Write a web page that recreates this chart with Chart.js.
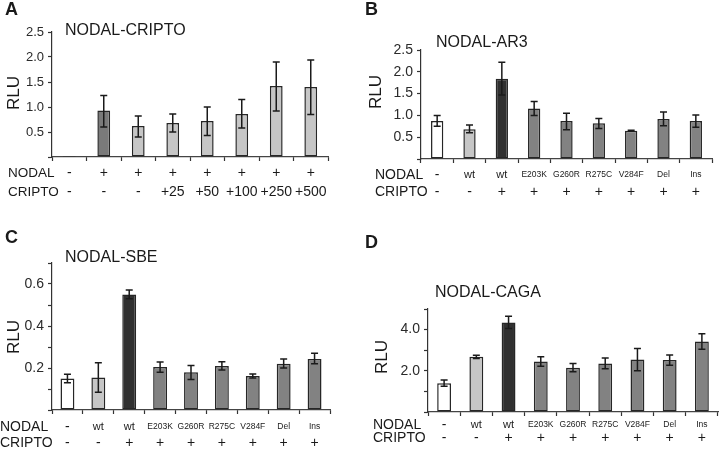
<!DOCTYPE html>
<html>
<head>
<meta charset="utf-8">
<script src="https://cdn.jsdelivr.net/npm/chart.js@4"></script>
<style>
  body { margin: 0; background: #fff; }
  #wrap { position: relative; width: 720px; height: 449px; }
  .panel { position: absolute; }
</style>
</head>
<body>
<div id="wrap">
  <div class="panel" style="left:0;top:0;width:360px;height:225px"><canvas id="chartA"></canvas></div>
  <div class="panel" style="left:360px;top:0;width:360px;height:225px"><canvas id="chartB"></canvas></div>
  <div class="panel" style="left:0;top:225px;width:360px;height:224px"><canvas id="chartC"></canvas></div>
  <div class="panel" style="left:360px;top:225px;width:360px;height:224px"><canvas id="chartD"></canvas></div>
</div>
<script>
// Panel A - NODAL-CRIPTO
const aNodal = ['-', '+', '+', '+', '+', '+', '+', '+'];
const aCripto = ['-', '-', '-', '+25', '+50', '+100', '+250', '+500'];
const aValues = [0.02, 0.93, 0.62, 0.68, 0.72, 0.86, 1.42, 1.40];
const aErrLow = [0.02, 0.60, 0.40, 0.50, 0.43, 0.58, 0.92, 0.85];
const aErrHigh = [0.02, 1.23, 0.82, 0.86, 1.00, 1.15, 1.90, 1.94];

// Panels B-D share the same conditions
const mutNodal = ['-', 'wt', 'wt', 'E203K', 'G260R', 'R275C', 'V284F', 'Del', 'Ins'];
const mutCripto = ['-', '-', '+', '+', '+', '+', '+', '+', '+'];

// Panel B - NODAL-AR3
const bValues = [0.87, 0.68, 1.84, 1.16, 0.87, 0.82, 0.65, 0.92, 0.87];
const bErrLow = [0.75, 0.60, 1.47, 1.00, 0.67, 0.70, 0.64, 0.76, 0.73];
const bErrHigh = [1.00, 0.78, 2.22, 1.32, 1.05, 0.93, 0.66, 1.08, 1.01];

// Panel C - NODAL-SBE
const cValues = [0.150, 0.155, 0.550, 0.205, 0.180, 0.210, 0.162, 0.220, 0.243];
const cErrLow = [0.130, 0.085, 0.530, 0.180, 0.145, 0.190, 0.152, 0.200, 0.220];
const cErrHigh = [0.170, 0.225, 0.572, 0.228, 0.212, 0.230, 0.172, 0.243, 0.270];

// Panel D - NODAL-CAGA
const dValues = [1.40, 2.68, 4.35, 2.45, 2.15, 2.35, 2.55, 2.52, 3.42];
const dErrLow = [1.25, 2.60, 4.05, 2.22, 1.95, 2.10, 2.00, 2.27, 3.05];
const dErrHigh = [1.55, 2.76, 4.65, 2.68, 2.35, 2.62, 3.08, 2.77, 3.80];

// bar fills
const WHITE = '#ffffff', LIGHT = '#c6c6c6', MID = '#828282', DARK = '#303030', AMID = '#7a7a7a';
const aColors = [LIGHT, AMID, LIGHT, LIGHT, LIGHT, LIGHT, LIGHT, LIGHT];
const mutColors = [WHITE, LIGHT, DARK, MID, MID, MID, MID, MID, MID];

const FONT = '"Liberation Sans", Arial, sans-serif';
const INK = '#1a1a1a';

function rowFont(label) {
  if (label === 'wt') return '11px ' + FONT;
  if (/^[A-Za-z]/.test(label) && label.length > 2) return '8.5px ' + FONT;
  return '14px ' + FONT;
}

// draws error bars, the condition rows and the panel texts
const panelPlugin = {
  id: 'panel',
  afterDatasetsDraw(chart, args, o) {
    const ctx = chart.ctx;
    const x = chart.scales.x, y = chart.scales.y;
    ctx.save();
    ctx.strokeStyle = INK;
    ctx.lineWidth = 1.5;
    o.lo.forEach((lo, i) => {
      const px = x.getPixelForValue(i);
      const y1 = y.getPixelForValue(lo), y2 = y.getPixelForValue(o.hi[i]);
      if (Math.abs(y1 - y2) < 0.5) return;
      ctx.beginPath();
      ctx.moveTo(px, y1); ctx.lineTo(px, y2);
      ctx.moveTo(px - 3.5, y1); ctx.lineTo(px + 3.5, y1);
      ctx.moveTo(px - 3.5, y2); ctx.lineTo(px + 3.5, y2);
      ctx.stroke();
    });

    ctx.fillStyle = INK;
    ctx.textBaseline = 'middle';
    // panel letter
    ctx.textAlign = 'left';
    ctx.font = 'bold 18px ' + FONT;
    ctx.fillText(o.letter, o.letterPos[0], o.letterPos[1]);
    // title
    ctx.font = '16px ' + FONT;
    ctx.fillText(o.title, o.titlePos[0], o.titlePos[1]);
    // row names
    ctx.font = o.rowNameFont + ' ' + FONT;
    ctx.fillText('NODAL', o.rowX, o.rowY[0]);
    ctx.fillText('CRIPTO', o.rowX, o.rowY[1]);
    // row values
    ctx.textAlign = 'center';
    o.nodal.forEach((lab, i) => {
      const px = x.getPixelForValue(i);
      ctx.font = rowFont(lab);
      ctx.fillText(lab, px, o.rowY[0]);
      ctx.font = rowFont(o.cripto[i]);
      ctx.fillText(o.cripto[i], px, o.rowY[1]);
    });
    // y title
    ctx.save();
    ctx.translate(o.rluPos[0], o.rluPos[1]);
    ctx.rotate(-Math.PI / 2);
    ctx.font = '17px ' + FONT;
    ctx.fillText('RLU', 0, 0);
    ctx.restore();
    ctx.restore();
  }
};

function makePanel(id, cfg) {
  const labels = cfg.nodal.map((n, i) => n + ' / ' + cfg.cripto[i]);
  new Chart(document.getElementById(id), {
    type: 'bar',
    data: {
      labels: labels,
      datasets: [{
        data: cfg.values,
        backgroundColor: cfg.colors,
        borderColor: '#262626',
        borderWidth: 1.5,
        borderSkipped: false,
        barPercentage: cfg.barPct,
        categoryPercentage: 1
      }]
    },
    options: {
      responsive: true,
      maintainAspectRatio: false,
      animation: false,
      layout: { padding: cfg.padding },
      scales: {
        x: {
          grid: { drawOnChartArea: false, drawTicks: true, tickLength: 4, tickWidth: 1.2, color: '#333', offset: true },
          border: { color: '#444', width: 1.2 },
          ticks: { callback: () => '' },
          afterFit: s => { s.height = 4; }
        },
        y: {
          min: 0,
          max: cfg.max,
          grid: { drawOnChartArea: false, drawTicks: true, tickLength: 4, tickWidth: 1.2, color: '#333' },
          border: { color: '#333', width: 1.2 },
          ticks: {
            stepSize: cfg.step,
            color: '#2a2a2a',
            font: { family: FONT, size: cfg.tickSize },
            padding: 4,
            callback: v => cfg.showTick(v) ? v.toFixed(1) : ''
          },
          afterFit: s => { s.width = cfg.axisLeft; }
        }
      },
      plugins: {
        legend: { display: false },
        tooltip: { enabled: false },
        panel: {
          lo: cfg.lo, hi: cfg.hi,
          nodal: cfg.nodal, cripto: cfg.cripto,
          letter: cfg.letter, letterPos: cfg.letterPos,
          title: cfg.title, titlePos: cfg.titlePos,
          rowX: cfg.rowX, rowY: cfg.rowY, rowNameFont: cfg.rowNameFont,
          rluPos: cfg.rluPos
        }
      }
    },
    plugins: [panelPlugin]
  });
}

makePanel('chartA', {
  values: aValues, lo: aErrLow, hi: aErrHigh, colors: aColors,
  nodal: aNodal, cripto: aCripto, barPct: 0.37, tickSize: 13,
  max: 2.5, step: 0.5, showTick: v => v > 0.01,
  axisLeft: 52, padding: { top: 32, right: 32, bottom: 64, left: 0 },
  letter: 'A', letterPos: [5, 10], title: 'NODAL-CRIPTO', titlePos: [65, 31],
  rowX: 8, rowY: [173, 192], rowNameFont: '13.5px', rluPos: [14, 93]
});

makePanel('chartB', {
  values: bValues, lo: bErrLow, hi: bErrHigh, colors: mutColors,
  nodal: mutNodal, cripto: mutCripto, barPct: 0.38, tickSize: 14,
  max: 2.5, step: 0.5, showTick: v => v > 0.01,
  axisLeft: 61, padding: { top: 50, right: 8, bottom: 62, left: 0 },
  letter: 'B', letterPos: [5, 10], title: 'NODAL-AR3', titlePos: [76, 43],
  rowX: 15, rowY: [175, 192], rowNameFont: '14px', rluPos: [16, 92]
});

makePanel('chartC', {
  values: cValues, lo: cErrLow, hi: cErrHigh, colors: mutColors,
  nodal: mutNodal, cripto: mutCripto, barPct: 0.45, tickSize: 14,
  max: 0.7, step: 0.1, showTick: v => [0.2, 0.4, 0.6].some(t => Math.abs(v - t) < 0.001),
  axisLeft: 52, padding: { top: 38, right: 30, bottom: 35, left: 0 },
  letter: 'C', letterPos: [5, 13], title: 'NODAL-SBE', titlePos: [65, 33],
  rowX: 0, rowY: [202, 218], rowNameFont: '14px', rluPos: [14, 112]
});

makePanel('chartD', {
  values: dValues, lo: dErrLow, hi: dErrHigh, colors: mutColors,
  nodal: mutNodal, cripto: mutCripto, barPct: 0.43, tickSize: 14,
  max: 5, step: 1, showTick: v => v === 2 || v === 4,
  axisLeft: 68, padding: { top: 84, right: 2, bottom: 33, left: 0 },
  letter: 'D', letterPos: [5, 18], title: 'NODAL-CAGA', titlePos: [75, 68],
  rowX: 13, rowY: [200, 213], rowNameFont: '14px', rluPos: [22, 132]
});
</script>
</body>
</html>
